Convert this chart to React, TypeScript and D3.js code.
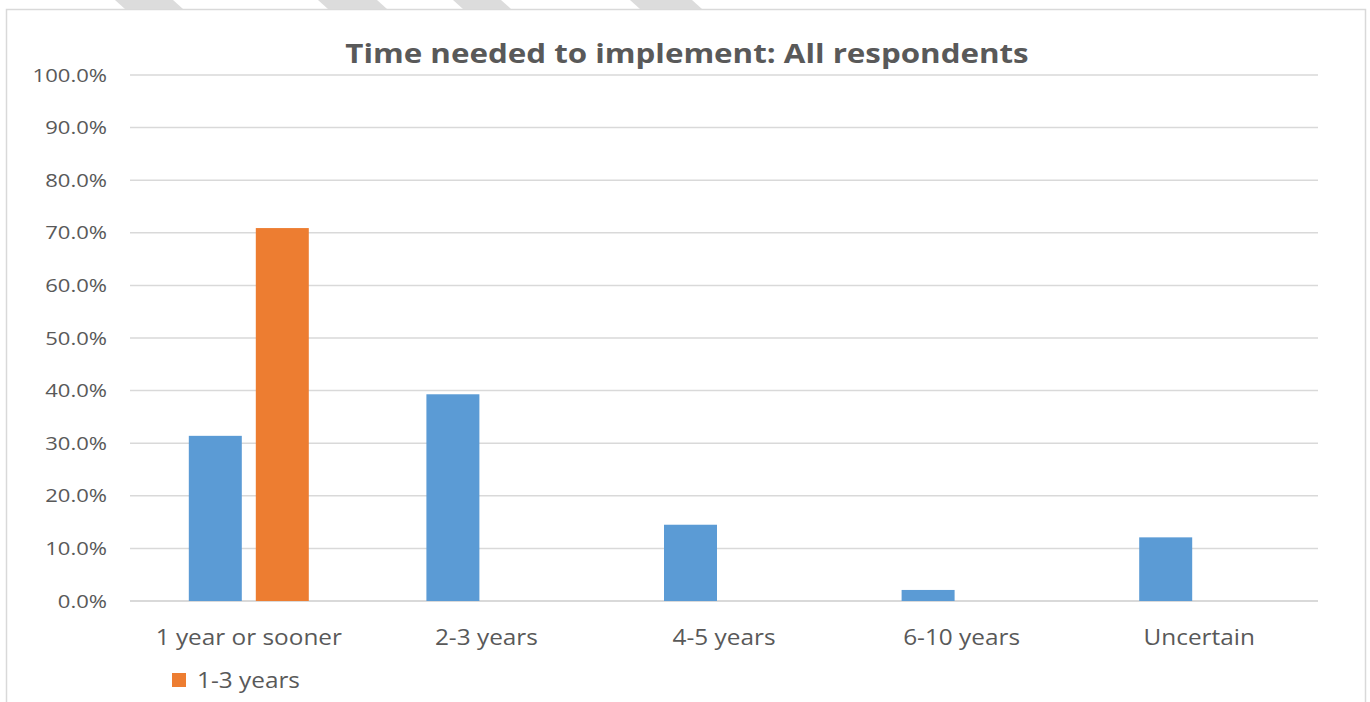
import React, { useEffect } from 'react';
import * as d3 from 'd3';

// chart data
const categories = ['1 year or sooner', '2-3 years', '4-5 years', '6-10 years', 'Uncertain'];
const seriesNames = ['All respondents', '1-3 years'];
const blueValues = [31.4, 39.3, 14.5, 2.1, 12.1];
const orangeValues = [70.9, 0, 0, 0, 0];
const seriesColors = ['#5B9BD5', '#ED7D31'];
const legendSeries = ['1-3 years'];
const yTicks = [0, 10, 20, 30, 40, 50, 60, 70, 80, 90, 100];
const title = 'Time needed to implement: All respondents';

// gray dashes peeking in at the top edge
const topDashes = [
  [115, 183], [318, 387], [453, 511], [630, 702],
];

const W = 1370;
const H = 702;
const FONT = '"Open Sans", "Liberation Sans", sans-serif';
const TEXT = '#595959';
const GRID = '#d9d9d9';
const STRETCH = 1.16; // reference text is a bit wide for its height

const App: React.FC = () => {
  useEffect(() => {
    document.body.style.margin = '0';
    document.body.style.overflow = 'hidden';
  }, []);

  const margin = { left: 130, right: 52, top: 75, bottom: 101 };
  const plotBottom = H - margin.bottom;

  const x0 = d3.scaleBand<string>()
    .domain(categories)
    .range([margin.left, W - margin.right])
    .padding(0);

  const groupW = x0.bandwidth() * 0.505;
  const x1 = d3.scaleBand<string>()
    .domain(seriesNames)
    .range([(x0.bandwidth() - groupW) / 2, (x0.bandwidth() + groupW) / 2])
    .paddingInner(0.209)
    .paddingOuter(0);

  const y = d3.scaleLinear()
    .domain([0, 100])
    .range([plotBottom, margin.top]);

  const fmt = (v: number) => d3.format('.1f')(v) + '%';

  const series = [blueValues, orangeValues];

  const at = (x: number, yy: number) => `translate(${x},${yy}) scale(${STRETCH},1)`;

  return (
    <svg width={W} height={H} style={{ display: 'block', background: '#fff' }}>
      {/* dashes at the very top */}
      {topDashes.map(([a, b], i) => (
        <polygon
          key={i}
          points={`${a},0 ${b - 10},0 ${b},9 ${a + 10},9`}
          fill="#dcdcdc"
        />
      ))}

      {/* chart frame */}
      <rect x={6.5} y={9.5} width={1359} height={H + 20} fill="#fff" stroke={GRID} strokeWidth={1.5} />

      <text
        transform={at(687, 63)}
        textAnchor="middle"
        fontFamily={FONT}
        fontWeight="bold"
        fontSize={27}
        fill={TEXT}
      >
        {title}
      </text>

      {/* gridlines + y labels */}
      {yTicks.map(t => (
        <g key={t}>
          <line
            x1={margin.left}
            x2={W - margin.right}
            y1={y(t)}
            y2={y(t)}
            stroke={GRID}
            strokeWidth={t === 0 ? 2 : 1.5}
          />
          <text
            transform={at(107, y(t))}
            dy="0.35em"
            textAnchor="end"
            fontFamily={FONT}
            fontSize={19}
            fill={TEXT}
          >
            {fmt(t)}
          </text>
        </g>
      ))}

      {/* bars */}
      {categories.map((c, ci) => (
        <g key={c} transform={`translate(${x0(c)},0)`}>
          {series.map((vals, si) => vals[ci] > 0 && (
            <rect
              key={si}
              x={x1(seriesNames[si])}
              y={y(vals[ci])}
              width={x1.bandwidth()}
              height={plotBottom - y(vals[ci])}
              fill={seriesColors[si]}
            />
          ))}
        </g>
      ))}

      {/* category labels */}
      {categories.map(c => (
        <text
          key={c}
          transform={at((x0(c) ?? 0) + x0.bandwidth() / 2, 645)}
          textAnchor="middle"
          fontFamily={FONT}
          fontSize={21}
          fill={TEXT}
        >
          {c}
        </text>
      ))}

      {/* legend */}
      {legendSeries.map((s, i) => (
        <g key={s} transform={`translate(${172 + i * 150},673)`}>
          <rect width={14} height={14} fill={seriesColors[seriesNames.indexOf(s)]} />
          <text transform={at(25, 15)} fontFamily={FONT} fontSize={21} fill={TEXT}>{s}</text>
        </g>
      ))}
    </svg>
  );
};

export default App;
